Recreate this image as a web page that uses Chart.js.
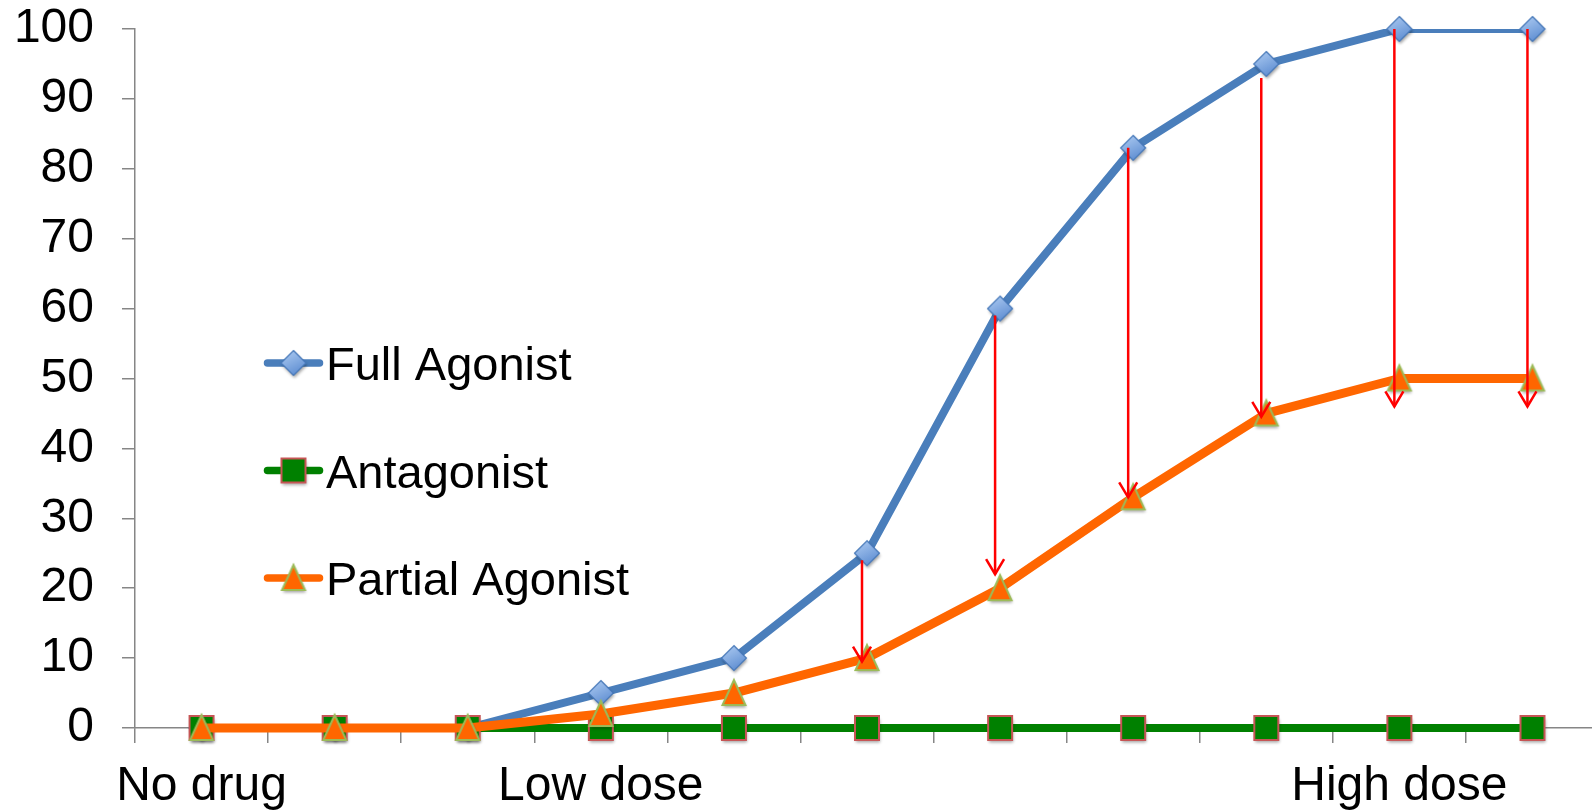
<!DOCTYPE html>
<html>
<head>
<meta charset="utf-8">
<script src="https://cdn.jsdelivr.net/npm/chart.js@4.4.1/dist/chart.umd.min.js"></script>
<style>
  html, body { margin: 0; padding: 0; background: #fff; overflow: hidden; }
  #wrap { width: 1620px; height: 810px; }
</style>
</head>
<body>
<div id="wrap"><canvas id="doseChart" width="1620" height="810"></canvas></div>
<script>
// Data
const doseLabels = ['No drug', '', '', 'Low dose', '', '', '', '', '', 'High dose', ''];
const fullAgonist = [0, 0, 0, 5, 10, 25, 60, 83, 95, 100, 100];
const antagonist = [0, 0, 0, 0, 0, 0, 0, 0, 0, 0, 0];
const partialAgonist = [0, 0, 0, 2, 5, 10, 20, 33, 45, 50, 50];

// Red arrows: category index, start value, end value
const arrowIdx = [5, 6, 7, 8, 9, 10];
const arrowFrom = [24, 59, 83, 93, 100, 100];
const arrowTo = [9.5, 22, 33, 44.5, 46, 46];

const FONT = '"Liberation Sans", Arial, sans-serif';
const BLUE = '#4a7ebb';
const GREEN = '#008000';
const ORANGE = '#ff6600';
const AXIS = '#868686';

// Marker images (shape with soft shadow, like the office chart)
function makeMarker(w, h, draw) {
  const c = document.createElement('canvas');
  c.width = w + 12;
  c.height = h + 12;
  const g = c.getContext('2d');
  g.translate(c.width / 2, c.height / 2);
  draw(g);
  return c;
}
function shadowOn(g) {
  g.shadowColor = 'rgba(0,0,0,0.35)';
  g.shadowBlur = 3;
  g.shadowOffsetX = 1;
  g.shadowOffsetY = 2.5;
}
function shadowOff(g) {
  g.shadowColor = 'transparent';
}

const diamond = makeMarker(26, 26, g => {
  const r = 12.5;
  g.beginPath();
  g.moveTo(0, -r); g.lineTo(r, 0); g.lineTo(0, r); g.lineTo(-r, 0);
  g.closePath();
  const gr = g.createLinearGradient(-r / 2, -r, r / 2, r);
  gr.addColorStop(0, '#a9c8f0');
  gr.addColorStop(1, '#5a8ad0');
  g.fillStyle = gr;
  shadowOn(g); g.fill(); shadowOff(g);
  g.strokeStyle = '#4577b8'; g.lineWidth = 1.2; g.stroke();
});

const square = makeMarker(26, 26, g => {
  g.beginPath();
  g.rect(-12, -12, 24, 24);
  g.fillStyle = GREEN;
  shadowOn(g); g.fill(); shadowOff(g);
  g.strokeStyle = '#c65555'; g.lineWidth = 2; g.stroke();
});

const triangle = makeMarker(26, 26, g => {
  g.beginPath();
  g.moveTo(0, -13); g.lineTo(11.5, 12); g.lineTo(-11.5, 12);
  g.closePath();
  g.fillStyle = ORANGE;
  shadowOn(g); g.fill(); shadowOff(g);
  g.strokeStyle = '#9bbb59'; g.lineWidth = 2; g.lineJoin = 'miter'; g.stroke();
});

const arrowPlugin = {
  id: 'arrows',
  afterDatasetsDraw(chart, args, opts) {
    const { ctx, scales: { x, y } } = chart;
    ctx.save();
    ctx.strokeStyle = '#ff0000';
    ctx.lineWidth = 2.5;
    arrowIdx.forEach((idx, i) => {
      const px = x.getPixelForValue(idx) + opts.shift;
      const y0 = y.getPixelForValue(arrowFrom[i]);
      const y1 = y.getPixelForValue(arrowTo[i]);
      ctx.beginPath();
      ctx.moveTo(px, y0);
      ctx.lineTo(px, y1);
      ctx.stroke();
      ctx.beginPath();
      ctx.moveTo(px - 9, y1 - 15);
      ctx.lineTo(px, y1);
      ctx.lineTo(px + 9, y1 - 15);
      ctx.stroke();
    });
    ctx.restore();
  }
};

// Legend sits inside the plot area
const legendPlugin = {
  id: 'insideLegend',
  afterDraw(chart, args, opts) {
    const ctx = chart.ctx;
    opts.items.forEach((it, i) => {
      const ds = chart.data.datasets[it.dataset];
      const y = opts.top + i * opts.rowGap;
      const x0 = opts.left;
      ctx.save();
      ctx.strokeStyle = ds.borderColor;
      ctx.lineWidth = 7.5;
      ctx.lineCap = 'round';
      ctx.beginPath();
      ctx.moveTo(x0 + 3.5, y);
      ctx.lineTo(x0 + opts.lineLen - 3.5, y);
      ctx.stroke();
      ctx.drawImage(it.marker, x0 + opts.lineLen / 2 - it.marker.width / 2, y - it.marker.height / 2);
      ctx.fillStyle = '#000';
      ctx.font = '47px ' + FONT;
      ctx.textBaseline = 'alphabetic';
      ctx.fillText(ds.label, x0 + opts.lineLen + 3, y + 17);
      ctx.restore();
    });
  }
};

new Chart(document.getElementById('doseChart'), {
  type: 'line',
  data: {
    labels: doseLabels,
    datasets: [
      {
        label: 'Full Agonist',
        data: fullAgonist,
        borderColor: BLUE,
        borderWidth: 8,
        pointRadius: 0,
        clip: { left: false, top: 0, right: false, bottom: false },
        order: 4
      },
      {
        label: 'Full Agonist',
        data: fullAgonist,
        showLine: false,
        pointStyle: diamond,
        pointRadius: 12,
        clip: false,
        order: 3
      },
      {
        label: 'Antagonist',
        data: antagonist,
        borderColor: GREEN,
        borderWidth: 8,
        pointStyle: square,
        pointRadius: 12,
        clip: false,
        order: 2
      },
      {
        label: 'Partial Agonist',
        data: partialAgonist,
        borderColor: ORANGE,
        borderWidth: 9,
        pointStyle: triangle,
        pointRadius: 12,
        clip: false,
        order: 1
      }
    ]
  },
  options: {
    responsive: false,
    animation: false,
    events: [],
    layout: { padding: { top: 29, right: 1, left: 0, bottom: 0 } },
    elements: {
      line: { tension: 0, borderCapStyle: 'round', borderJoinStyle: 'round' }
    },
    plugins: {
      legend: { display: false },
      tooltip: { enabled: false },
      arrows: { shift: -5 },
      insideLegend: {
        left: 264,
        lineLen: 59,
        top: 363,
        rowGap: 107.5,
        items: [
          { dataset: 0, marker: diamond },
          { dataset: 2, marker: square },
          { dataset: 3, marker: triangle }
        ]
      }
    },
    scales: {
      x: {
        offset: true,
        grid: { offset: true, drawOnChartArea: false, tickLength: 15, color: AXIS, lineWidth: 1.5 },
        border: { color: AXIS, width: 1.5 },
        ticks: {
          autoSkip: false,
          maxRotation: 0,
          color: '#000',
          padding: 15,
          font: { family: FONT, size: 48 }
        },
        afterFit: s => { s.height = 82; }
      },
      y: {
        min: 0,
        max: 100,
        grid: { drawOnChartArea: false, tickLength: 13, color: AXIS, lineWidth: 1.5 },
        border: { color: AXIS, width: 1.5 },
        ticks: {
          stepSize: 10,
          color: '#000',
          padding: 28,
          font: { family: FONT, size: 48 }
        },
        afterFit: s => {
          s.width = 135;
          s.paddingTop = 0;
          s.paddingBottom = 0;
        }
      }
    }
  },
  plugins: [arrowPlugin, legendPlugin]
});
</script>
</body>
</html>
